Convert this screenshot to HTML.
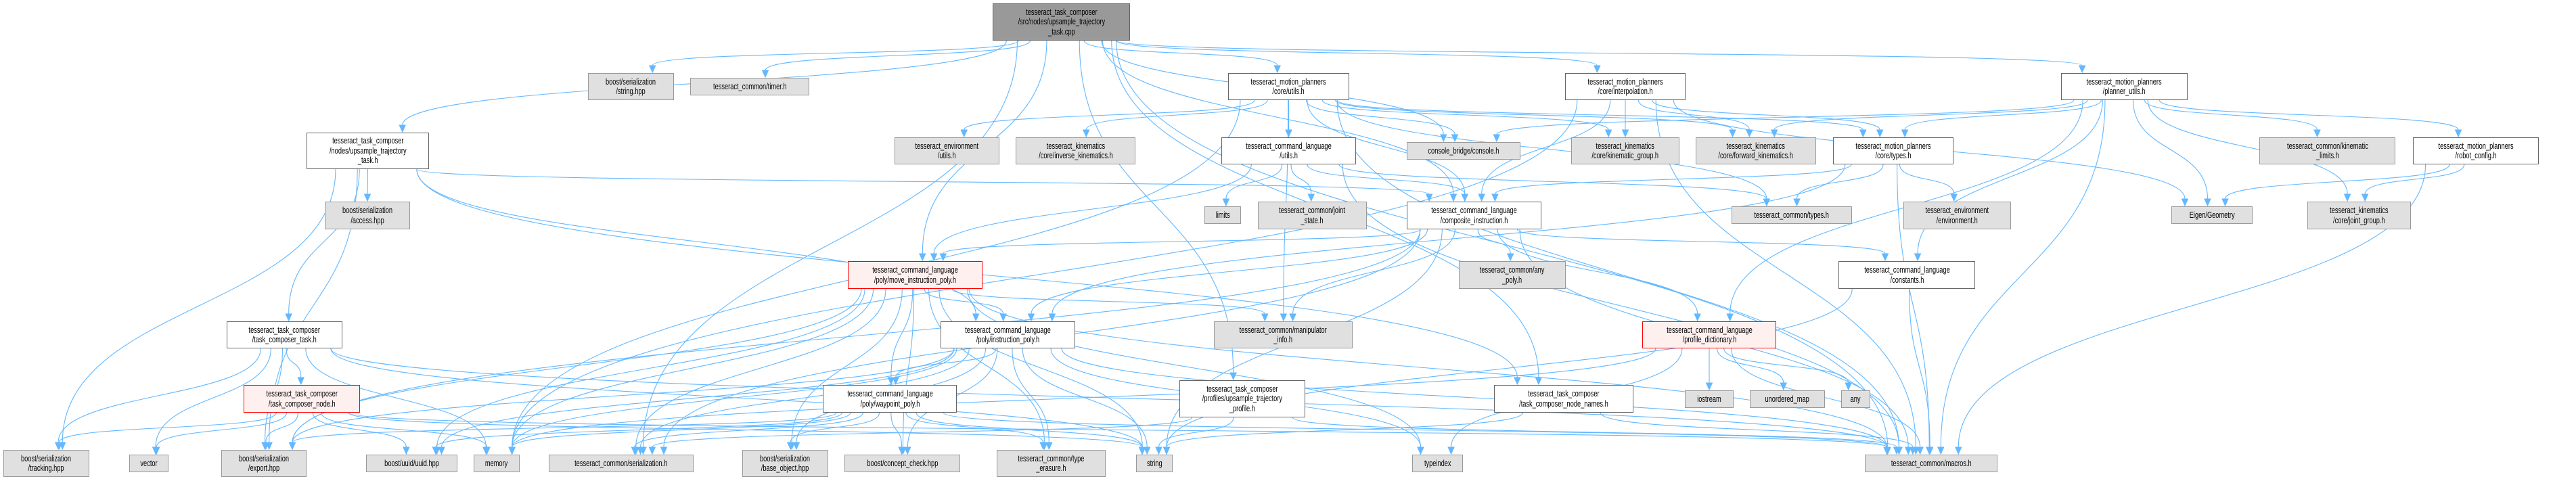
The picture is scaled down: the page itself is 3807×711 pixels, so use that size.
<!DOCTYPE html>
<html><head><meta charset="utf-8"><style>
body{margin:0;width:3807px;height:711px;background:#fff;position:relative;overflow:hidden;font-family:"Liberation Sans",Arial,sans-serif}
.n{position:absolute;box-sizing:border-box;display:flex;align-items:center;justify-content:center;text-align:center;font-size:12.5px;line-height:14.5px;color:#000;border:1.5px solid #666;background:#fff;white-space:nowrap;z-index:2}
.n span{display:inline-block;transform:scaleX(0.74)}
.g{background:#e0e0e0;border-color:#999}
.r{background:#fff0f0;border-color:#f00}
.m{background:#999;border-color:#666}
svg{position:absolute;left:0;top:0;z-index:1}
</style></head><body>
<svg id="s" width="3807" height="711"></svg>
<div class="n m" style="left:1467px;top:5px;width:203px;height:55px"><span>tesseract_task_composer<br>/src/nodes/upsample_trajectory<br>_task.cpp</span></div>
<div class="n" style="left:453px;top:196px;width:181px;height:54px"><span>tesseract_task_composer<br>/nodes/upsample_trajectory<br>_task.h</span></div>
<div class="n g" style="left:869px;top:108px;width:127px;height:40px"><span>boost/serialization<br>/string.hpp</span></div>
<div class="n g" style="left:1020px;top:115px;width:176px;height:26px"><span>tesseract_common/timer.h</span></div>
<div class="n" style="left:1815px;top:108px;width:179px;height:40px"><span>tesseract_motion_planners<br>/core/utils.h</span></div>
<div class="n" style="left:2313px;top:108px;width:178px;height:40px"><span>tesseract_motion_planners<br>/core/interpolation.h</span></div>
<div class="n" style="left:3046px;top:108px;width:187px;height:40px"><span>tesseract_motion_planners<br>/planner_utils.h</span></div>
<div class="n g" style="left:480px;top:298px;width:126px;height:41px"><span>boost/serialization<br>/access.hpp</span></div>
<div class="n g" style="left:1322px;top:203px;width:155px;height:40px"><span>tesseract_environment<br>/utils.h</span></div>
<div class="n g" style="left:1501px;top:203px;width:177px;height:40px"><span>tesseract_kinematics<br>/core/inverse_kinematics.h</span></div>
<div class="n" style="left:1805px;top:203px;width:199px;height:40px"><span>tesseract_command_language<br>/utils.h</span></div>
<div class="n g" style="left:2079px;top:210px;width:168px;height:26px"><span>console_bridge/console.h</span></div>
<div class="n g" style="left:2322px;top:203px;width:160px;height:40px"><span>tesseract_kinematics<br>/core/kinematic_group.h</span></div>
<div class="n g" style="left:2506px;top:203px;width:178px;height:40px"><span>tesseract_kinematics<br>/core/forward_kinematics.h</span></div>
<div class="n" style="left:2709px;top:203px;width:178px;height:40px"><span>tesseract_motion_planners<br>/core/types.h</span></div>
<div class="n g" style="left:3339px;top:203px;width:201px;height:40px"><span>tesseract_common/kinematic<br>_limits.h</span></div>
<div class="n" style="left:3566px;top:203px;width:186px;height:40px"><span>tesseract_motion_planners<br>/robot_config.h</span></div>
<div class="n g" style="left:1780px;top:305px;width:54px;height:26px"><span>limits</span></div>
<div class="n g" style="left:1859px;top:298px;width:161px;height:41px"><span>tesseract_common/joint<br>_state.h</span></div>
<div class="n" style="left:2079px;top:298px;width:199px;height:41px"><span>tesseract_command_language<br>/composite_instruction.h</span></div>
<div class="n g" style="left:2559px;top:305px;width:178px;height:26px"><span>tesseract_common/types.h</span></div>
<div class="n g" style="left:2813px;top:298px;width:159px;height:41px"><span>tesseract_environment<br>/environment.h</span></div>
<div class="n g" style="left:3209px;top:305px;width:120px;height:26px"><span>Eigen/Geometry</span></div>
<div class="n g" style="left:3410px;top:298px;width:153px;height:41px"><span>tesseract_kinematics<br>/core/joint_group.h</span></div>
<div class="n r" style="left:1253px;top:386px;width:199px;height:41px"><span>tesseract_command_language<br>/poly/move_instruction_poly.h</span></div>
<div class="n g" style="left:2156px;top:386px;width:158px;height:41px"><span>tesseract_common/any<br>_poly.h</span></div>
<div class="n" style="left:2717px;top:386px;width:202px;height:41px"><span>tesseract_command_language<br>/constants.h</span></div>
<div class="n" style="left:335px;top:475px;width:171px;height:40px"><span>tesseract_task_composer<br>/task_composer_task.h</span></div>
<div class="n" style="left:1390px;top:475px;width:199px;height:40px"><span>tesseract_command_language<br>/poly/instruction_poly.h</span></div>
<div class="n g" style="left:1794px;top:475px;width:205px;height:40px"><span>tesseract_common/manipulator<br>_info.h</span></div>
<div class="n r" style="left:2427px;top:475px;width:198px;height:40px"><span>tesseract_command_language<br>/profile_dictionary.h</span></div>
<div class="n r" style="left:360px;top:569px;width:172px;height:41px"><span>tesseract_task_composer<br>/task_composer_node.h</span></div>
<div class="n" style="left:1216px;top:569px;width:198px;height:41px"><span>tesseract_command_language<br>/poly/waypoint_poly.h</span></div>
<div class="n" style="left:1743px;top:562px;width:186px;height:55px"><span>tesseract_task_composer<br>/profiles/upsample_trajectory<br>_profile.h</span></div>
<div class="n" style="left:2208px;top:569px;width:206px;height:41px"><span>tesseract_task_composer<br>/task_composer_node_names.h</span></div>
<div class="n g" style="left:2490px;top:577px;width:72px;height:26px"><span>iostream</span></div>
<div class="n g" style="left:2586px;top:577px;width:111px;height:26px"><span>unordered_map</span></div>
<div class="n g" style="left:2721px;top:577px;width:43px;height:26px"><span>any</span></div>
<div class="n g" style="left:5px;top:665px;width:127px;height:40px"><span>boost/serialization<br>/tracking.hpp</span></div>
<div class="n g" style="left:191px;top:672px;width:58px;height:26px"><span>vector</span></div>
<div class="n g" style="left:327px;top:665px;width:126px;height:40px"><span>boost/serialization<br>/export.hpp</span></div>
<div class="n g" style="left:541px;top:672px;width:135px;height:26px"><span>boost/uuid/uuid.hpp</span></div>
<div class="n g" style="left:700px;top:672px;width:68px;height:26px"><span>memory</span></div>
<div class="n g" style="left:811px;top:672px;width:214px;height:26px"><span>tesseract_common/serialization.h</span></div>
<div class="n g" style="left:1097px;top:665px;width:127px;height:40px"><span>boost/serialization<br>/base_object.hpp</span></div>
<div class="n g" style="left:1248px;top:672px;width:171px;height:26px"><span>boost/concept_check.hpp</span></div>
<div class="n g" style="left:1473px;top:665px;width:161px;height:40px"><span>tesseract_common/type<br>_erasure.h</span></div>
<div class="n g" style="left:1679px;top:672px;width:54px;height:26px"><span>string</span></div>
<div class="n g" style="left:2087px;top:672px;width:75px;height:26px"><span>typeindex</span></div>
<div class="n g" style="left:2756px;top:672px;width:196px;height:26px"><span>tesseract_common/macros.h</span></div>
<script>
var N={A:[1467,5,203,55],B:[453,196,181,54],C:[869,108,127,40],D:[1020,115,176,26],E:[1815,108,179,40],F:[2313,108,178,40],G:[3046,108,187,40],H:[480,298,126,41],I:[1322,203,155,40],J:[1501,203,177,40],K:[1805,203,199,40],L:[2079,210,168,26],M:[2322,203,160,40],Nn:[2506,203,178,40],O:[2709,203,178,40],P:[3339,203,201,40],Q:[3566,203,186,40],R:[1780,305,54,26],S:[1859,298,161,41],T:[2079,298,199,41],U:[2559,305,178,26],V:[2813,298,159,41],W:[3209,305,120,26],X:[3410,298,153,41],Y:[1253,386,199,41],Z:[2156,386,158,41],AA:[2717,386,202,41],AB:[335,475,171,40],AC:[1390,475,199,40],AD:[1794,475,205,40],AE:[2427,475,198,40],AF:[360,569,172,41],AG:[1216,569,198,41],AH:[1743,562,186,55],AI:[2208,569,206,41],AJ:[2490,577,72,26],AK:[2586,577,111,26],AL:[2721,577,43,26],AM:[5,665,127,40],AN:[191,672,58,26],AO:[327,665,126,40],AP:[541,672,135,26],AQ:[700,672,68,26],AR:[811,672,214,26],AS:[1097,665,127,40],AT:[1248,672,171,26],AU:[1473,665,161,40],AV:[1679,672,54,26],AW:[2087,672,75,26],AX:[2756,672,196,26]};
var E={A:"B C D E F G L T AR AX AH AI Y",B:"H AB T AO AM AC AI",E:"I J K L M Nn T AQ AX U AD O",F:"T M Nn O AX AQ W",G:"L Nn X P Q W O AE AA AX",K:"R S T U AX Y",O:"T U V AC AX",Q:"W X AX",T:"Y AC Z AD AE AA AV AX AO AR",Y:"AC AG AD AS AT AU AV AX AR AO AP AQ AW",AC:"AG AS AT AU AV AX AR AO AP AQ AW",AG:"AS AT AU AV AX AR AO AP AQ",AE:"AJ AK AL AX AW AQ",AA:"AX AV",AB:"AF AM AN AO AQ AX AV",AF:"AM AN AO AP AQ AX AV",AH:"AX AV AR",AI:"AX AV"};
var s='',c='#63b8ff';
for(var k in E){E[k].split(' ').forEach(function(t){var a=N[k],b=N[t];
var sx=a[0]+a[2]/2,sy=a[1]+a[3],tx=b[0]+b[2]/2,ty=b[1];
var dx=tx-sx;sx+=Math.max(-a[2]/2.5,Math.min(a[2]/2.5,dx*0.1));
tx+=Math.max(-b[2]/3,Math.min(b[2]/3,-dx*0.05));
var dy=ty-sy,my=dy*0.5;
var ex=tx,ey=ty-11;
s+='<path d="M'+sx+','+sy+' C'+sx+','+(sy+my)+' '+ex+','+(ey-my)+' '+ex+','+ey+'" fill="none" stroke="'+c+'" stroke-width="1.1"/>';
s+='<polygon points="'+(ex-4.5)+','+ey+' '+(ex+4.5)+','+ey+' '+ex+','+(ty-1)+'" fill="'+c+'" stroke="'+c+'"/>';});}
document.getElementById('s').innerHTML=s;
</script>
</body></html>
